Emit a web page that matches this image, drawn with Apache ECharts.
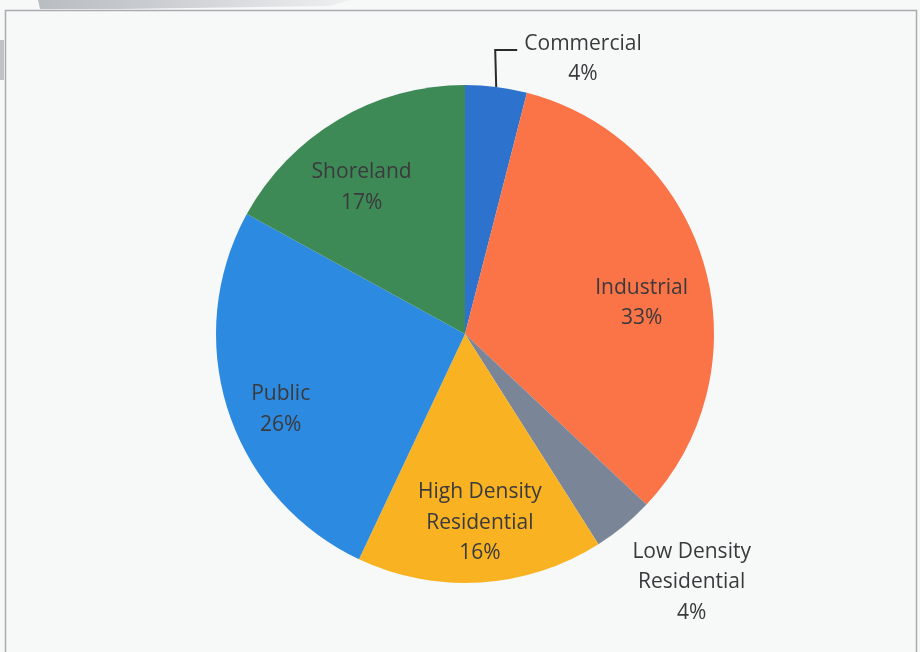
<!DOCTYPE html>
<html>
<head>
<meta charset="utf-8">
<script src="https://cdn.jsdelivr.net/npm/echarts@6/dist/echarts.min.js"></script>
<style>
  html, body { margin: 0; padding: 0; background: #f7f8f8; }
  #chart { width: 920px; height: 652px; }
</style>
</head>
<body>
<div id="chart"></div>
<script>
// Land use shares (percent), clockwise from 12 o'clock
const categories = ['Commercial', 'Industrial', 'Low Density\nResidential', 'High Density\nResidential', 'Public', 'Shoreland'];
const shares = [4, 33, 4, 16, 26, 17];
const sliceColors = ['#2d72cc', '#fa7447', '#7a8597', '#f9b322', '#2c8ae0', '#3e8a57'];

// Label placement per slice: radius as a fraction of the pie radius, angular nudge in degrees
const labelPlacement = [
  null,
  { f: 0.72, da: 6.3 },
  { f: 1.35, da: -2.8 },
  { f: 0.76, da: -0.9 },
  { f: 0.80, da: -4.3 },
  { f: 0.72, da: -4.6 }
];

const CX = 465, CY = 334, R = 249;
const total = shares.reduce((a, b) => a + b, 0);
const midAngles = [];
let acc = 0;
shares.forEach(v => { midAngles.push((acc + v / 2) / total * 360); acc += v; });

function polar(angleDeg, radius) {
  const a = angleDeg * Math.PI / 180;
  return [CX + radius * Math.sin(a), CY - radius * Math.cos(a)];
}

const chart = echarts.init(document.getElementById('chart'), null, { renderer: 'canvas' });

const data = categories.map((name, i) => ({
  name: name,
  value: shares[i],
  itemStyle: { color: sliceColors[i] },
  label: { position: i === 0 ? 'outside' : 'inside' },
  labelLine: { show: i === 0 }
}));

chart.setOption({
  backgroundColor: '#f7f8f8',
  animation: false,
  graphic: [
    {
      type: 'polygon',
      shape: { points: [[38, 0], [350, 0], [330, 6], [120, 9], [40, 9]] },
      style: {
        fill: new echarts.graphic.LinearGradient(0, 0, 1, 0, [
          { offset: 0, color: '#b9bdc2' },
          { offset: 0.3, color: '#c6c9cd' },
          { offset: 1, color: '#eef0f1' }
        ])
      },
      z: -1
    },
    {
      type: 'rect',
      shape: { x: 0, y: 40, width: 4, height: 40 },
      style: { fill: '#bfc3c7' },
      z: -1
    },
    {
      type: 'rect',
      shape: { x: 5.5, y: 10.5, width: 911, height: 700 },
      style: { fill: 'none', stroke: '#a9acaf', lineWidth: 1.5 },
      z: -1
    }
  ],
  series: [{
    type: 'pie',
    center: [CX, CY],
    radius: [0, R],
    startAngle: 90,
    clockwise: true,
    avoidLabelOverlap: false,
    itemStyle: { borderWidth: 0 },
    label: {
      show: true,
      formatter: p => p.name + '\n' + p.value + '%',
      fontFamily: '"Open Sans", Lato, sans-serif',
      fontSize: 21,
      lineHeight: 30.5,
      color: '#3a3a3c',
      align: 'center'
    },
    labelLine: {
      show: false,
      lineStyle: { color: '#2a2a2a', width: 2 }
    },
    labelLayout: function (params) {
      const i = params.dataIndex;
      if (i === 0) {
        const start = polar(midAngles[0], R);
        const elbowY = 50;
        return {
          x: 583,
          y: 59,
          align: 'center',
          verticalAlign: 'middle',
          labelLinePoints: [start, [start[0] - 1, elbowY], [start[0] + 21, elbowY]]
        };
      }
      const pl = labelPlacement[i];
      const pt = polar(midAngles[i] + pl.da, R * pl.f);
      return { x: pt[0], y: pt[1], align: 'center', verticalAlign: 'middle' };
    },
    data: data
  }]
});
</script>
</body>
</html>
